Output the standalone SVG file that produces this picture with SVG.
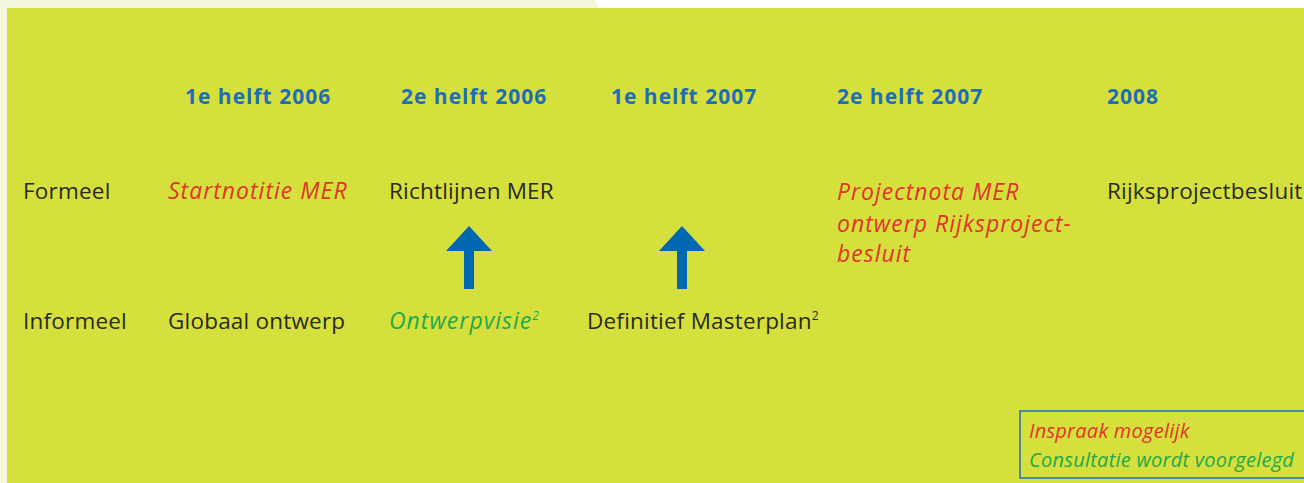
<svg xmlns="http://www.w3.org/2000/svg" width="1304" height="483" viewBox="0 0 1304 483">
<style>
text{font-family:"Open Sans","Liberation Sans",Arial,sans-serif;font-size:22.5px;letter-spacing:0.2px;fill:#2a2a25}
.h{font-weight:bold;fill:#1F6DB5;font-size:21px;letter-spacing:1px}
.r{font-style:italic;fill:#E0352B;font-size:23px;letter-spacing:1px}
.g{font-style:italic;fill:#1FA84A;font-size:23px;letter-spacing:1px}
.l{font-size:20px;letter-spacing:0.25px}
.arrow{fill:#0067B1}
</style>
<rect width="1304" height="483" fill="#ffffff"/>
<path d="M0 0 H594 Q598 4 599 8 V483 H0 Z" fill="#F3F6DA"/>
<rect x="7" y="8" width="1297" height="475" fill="#D5E03D"/>
<g id="headings">
<text class="h" x="185" y="104">1e helft 2006</text>
<text class="h" x="401" y="104">2e helft 2006</text>
<text class="h" x="611" y="104">1e helft 2007</text>
<text class="h" x="837" y="104">2e helft 2007</text>
<text class="h" x="1107" y="104">2008</text>
</g>
<g id="formeel">
<text x="23" y="199">Formeel</text>
<text class="r" x="168" y="199">Startnotitie MER</text>
<text x="389" y="199">Richtlijnen MER</text>
<text class="r" x="837" y="200">Projectnota MER</text>
<text class="r" x="837" y="232">ontwerp Rijksproject-</text>
<text class="r" x="837" y="262">besluit</text>
<text x="1107" y="199">Rijksprojectbesluit</text>
</g>
<g id="informeel">
<text x="23" y="329">Informeel</text>
<text x="168" y="329">Globaal ontwerp</text>
<text class="g" x="389" y="329">Ontwerpvisie<tspan font-size="12" dy="-9">2</tspan></text>
<text x="587" y="329">Definitief Masterplan<tspan font-size="12" dy="-9">2</tspan></text>
</g>
<g id="connectors">
<path class="arrow" d="M469 226 L492 251 H474 V289 H464 V251 H446 Z"/>
<path class="arrow" d="M682 226 L705 251 H687 V289 H677 V251 H659 Z"/>
</g>
<g id="legend">
<rect x="1020" y="411" width="290" height="67" fill="none" stroke="#1F6DB5" stroke-width="1.5"/>
<text class="r l" x="1029" y="438">Inspraak mogelijk</text>
<text class="g l" x="1029" y="467">Consultatie wordt voorgelegd</text>
</g>
</svg>
